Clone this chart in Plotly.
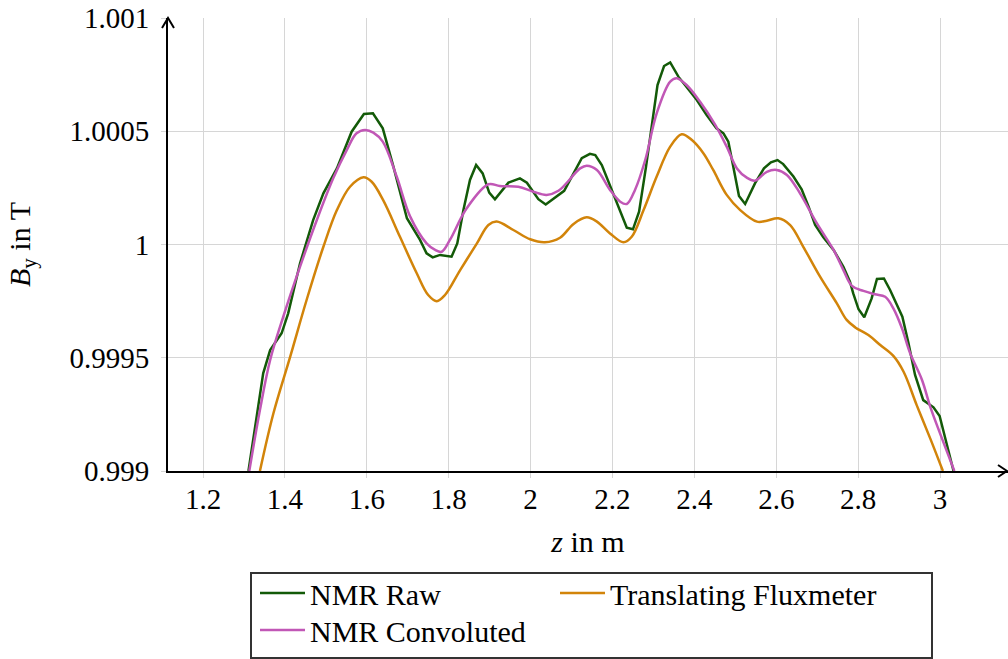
import plotly.graph_objects as go

# Longitudinal field profile B_y(z) along the magnet
raw_z = [1.311, 1.347, 1.364, 1.392, 1.408, 1.437, 1.469, 1.494, 1.527, 1.563,
         1.593, 1.615, 1.639, 1.665, 1.698, 1.730, 1.746, 1.761, 1.779, 1.807,
         1.821, 1.836, 1.852, 1.867, 1.883, 1.899, 1.913, 1.946, 1.974, 1.991,
         2.019, 2.037, 2.082, 2.125, 2.145, 2.158, 2.174, 2.202, 2.235, 2.250,
         2.265, 2.282, 2.296, 2.310, 2.326, 2.341, 2.361, 2.381, 2.406, 2.430,
         2.454, 2.471, 2.483, 2.495, 2.509, 2.524, 2.548, 2.570, 2.587, 2.603,
         2.617, 2.642, 2.662, 2.679, 2.695, 2.715, 2.740, 2.764, 2.780, 2.788,
         2.801, 2.815, 2.833, 2.846, 2.863, 2.878, 2.894, 2.908, 2.923, 2.939,
         2.959, 2.984, 2.999, 3.017, 3.033]
raw_b = [0.999000, 0.999431, 0.999534, 0.999608, 0.999696, 0.999917, 1.000108, 1.000226, 1.000336, 1.000498,
         1.000576, 1.000579, 1.000513, 1.000344, 1.000116, 1.000020, 0.999961, 0.999943, 0.999954, 0.999946,
         1.000005, 1.000152, 1.000285, 1.000351, 1.000314, 1.000229, 1.000200, 1.000273, 1.000292, 1.000273,
         1.000200, 1.000177, 1.000237, 1.000381, 1.000400, 1.000395, 1.000351, 1.000226, 1.000074, 1.000067,
         1.000145, 1.000344, 1.000520, 1.000704, 1.000788, 1.000804, 1.000741, 1.000694, 1.000638, 1.000572,
         1.000513, 1.000491, 1.000454, 1.000344, 1.000214, 1.000179, 1.000270, 1.000336, 1.000363, 1.000373,
         1.000355, 1.000300, 1.000244, 1.000167, 1.000086, 1.000032, 0.999976, 0.999902, 0.999836, 0.999784,
         0.999714, 0.999679, 0.999762, 0.999848, 0.999850, 0.999799, 0.999740, 0.999681, 0.999564, 0.999424,
         0.999313, 0.999281, 0.999243, 0.999107, 0.999000]

flux_z = [1.339, 1.372, 1.413, 1.453, 1.494, 1.527, 1.559, 1.592, 1.612, 1.640,
          1.681, 1.722, 1.750, 1.771, 1.791, 1.828, 1.869, 1.897, 1.917, 1.958,
          1.999, 2.035, 2.072, 2.105, 2.137, 2.162, 2.194, 2.227, 2.247, 2.276,
          2.308, 2.341, 2.369, 2.394, 2.422, 2.446, 2.479, 2.512, 2.553, 2.577,
          2.605, 2.634, 2.666, 2.707, 2.748, 2.772, 2.793, 2.825, 2.854, 2.886,
          2.911, 2.943, 2.976, 3.007]
flux_b = [0.999000, 0.999255, 0.999505, 0.999755, 0.999990, 1.000152, 1.000255, 1.000297, 1.000277, 1.000196,
          1.000034, 0.999873, 0.999777, 0.999750, 0.999777, 0.999887, 1.000005, 1.000086, 1.000101, 1.000064,
          1.000023, 1.000010, 1.000030, 1.000091, 1.000120, 1.000101, 1.000049, 1.000010, 1.000034, 1.000152,
          1.000300, 1.000432, 1.000487, 1.000461, 1.000403, 1.000329, 1.000219, 1.000152, 1.000101, 1.000105,
          1.000116, 1.000086, 0.999990, 0.999858, 0.999740, 0.999667, 0.999634, 0.999600, 0.999556, 0.999508,
          0.999438, 0.999291, 0.999144, 0.999000]

conv_z = [1.313, 1.339, 1.364, 1.396, 1.437, 1.478, 1.518, 1.551, 1.575, 1.596,
          1.616, 1.639, 1.673, 1.706, 1.746, 1.767, 1.783, 1.803, 1.844, 1.897,
          1.925, 1.970, 2.007, 2.039, 2.068, 2.121, 2.137, 2.162, 2.194, 2.219,
          2.235, 2.255, 2.280, 2.308, 2.341, 2.357, 2.381, 2.414, 2.451, 2.479,
          2.504, 2.528, 2.548, 2.577, 2.601, 2.626, 2.658, 2.699, 2.740, 2.764,
          2.785, 2.813, 2.841, 2.866, 2.886, 2.907, 2.927, 2.956, 2.976, 3.000,
          3.035]
conv_b = [0.999000, 0.999269, 0.999490, 0.999681, 0.999902, 1.000108, 1.000292, 1.000417, 1.000491, 1.000506,
          1.000494, 1.000454, 1.000300, 1.000123, 1.000005, 0.999976, 0.999968, 1.000020, 1.000160, 1.000266,
          1.000258, 1.000255, 1.000233, 1.000219, 1.000237, 1.000336, 1.000348, 1.000329, 1.000241, 1.000189,
          1.000179, 1.000241, 1.000373, 1.000579, 1.000719, 1.000734, 1.000704, 1.000630, 1.000528, 1.000432,
          1.000336, 1.000295, 1.000282, 1.000321, 1.000329, 1.000307, 1.000226, 1.000094, 0.999976, 0.999887,
          0.999817, 0.999795, 0.999780, 0.999769, 0.999718, 0.999630, 0.999520, 0.999402, 0.999284, 0.999166,
          0.999000]

x_ticks = [1.2, 1.4, 1.6, 1.8, 2.0, 2.2, 2.4, 2.6, 2.8, 3.0]
x_tick_text = ["1.2", "1.4", "1.6", "1.8", "2", "2.2", "2.4", "2.6", "2.8", "3"]
y_ticks = [0.999, 0.9995, 1.0, 1.0005, 1.001]
y_tick_text = ["0.999", "0.9995", "1", "1.0005", "1.001"]

FONT = "Liberation Serif"
GREEN = "#135a08"
ORANGE = "#d2840a"
MAGENTA = "#c157b6"

fig = go.Figure()
fig.add_trace(go.Scatter(x=raw_z, y=raw_b, mode="lines", name="NMR Raw", legend="legend",
                         line=dict(color=GREEN, width=2.5)))
fig.add_trace(go.Scatter(x=flux_z, y=flux_b, mode="lines", name="Translating Fluxmeter", legend="legend2",
                         line=dict(color=ORANGE, width=2.5, shape="spline", smoothing=1)))
fig.add_trace(go.Scatter(x=conv_z, y=conv_b, mode="lines", name="NMR Convoluted", legend="legend3",
                         line=dict(color=MAGENTA, width=2.5, shape="spline", smoothing=1)))

W, H = 1008, 659
ML, MR, MT, MB = 168, 0, 18, 188
PW, PH = W - ML - MR, H - MT - MB


def px_x(p):
    return (p - ML) / PW


def px_y(p):
    return (H - MB - p) / PH


# Arrow tips on the axis ends (open chevrons)
ax_x = 6 / PW
ax_y = 10 / PH
shapes = [
    dict(type="path", xref="paper", yref="paper",
         path=f"M {-ax_x},{1 - ax_y} L 0,1 L {ax_x},{1 - ax_y}",
         line=dict(color="black", width=2)),
    dict(type="path", xref="paper", yref="paper",
         path=f"M {1 - 10 / PW},{6 / PH} L {1 - 1 / PW},0 L {1 - 10 / PW},{-6 / PH}",
         line=dict(color="black", width=2)),
    # legend frame
    dict(type="rect", xref="paper", yref="paper",
         x0=px_x(251), x1=px_x(932), y0=px_y(573), y1=px_y(658),
         line=dict(color="#333333", width=2), fillcolor="rgba(0,0,0,0)"),
]


def legend_at(x_px, y_px):
    return dict(orientation="v", x=px_x(x_px), y=px_y(y_px), xanchor="left", yanchor="middle",
                itemwidth=45, borderwidth=0, bgcolor="rgba(0,0,0,0)",
                font=dict(family=FONT, size=30, color="black"))


fig.update_layout(
    width=W, height=H,
    margin=dict(l=ML, r=MR, t=MT, b=MB),
    paper_bgcolor="white", plot_bgcolor="white",
    font=dict(family=FONT, size=29, color="black"),
    showlegend=True,
    legend=legend_at(255, 593),
    legend2=legend_at(555, 593),
    legend3=legend_at(255, 630),
    shapes=shapes,
    xaxis=dict(range=[1.1145, 3.166], tickvals=x_ticks, ticktext=x_tick_text,
               showgrid=True, gridcolor="#d6d6d6", gridwidth=1,
               showline=True, linecolor="black", linewidth=2,
               ticks="outside", ticklen=5, tickcolor="#d6d6d6", tickwidth=1,
               ticklabelstandoff=-4, zeroline=False,
               tickfont=dict(family=FONT, size=29, color="black"),
               title=dict(text="<i>z</i> in m", standoff=17,
                          font=dict(family=FONT, size=30, color="black"))),
    yaxis=dict(range=[0.999, 1.001], tickvals=y_ticks, ticktext=y_tick_text,
               showgrid=True, gridcolor="#d6d6d6", gridwidth=1,
               showline=True, linecolor="black", linewidth=2,
               ticks="outside", ticklen=5, tickcolor="#d6d6d6", tickwidth=1,
               ticklabelstandoff=6, zeroline=False,
               tickfont=dict(family=FONT, size=29, color="black"),
               title=dict(text="<i>B</i><sub>y</sub> in T", standoff=30,
                          font=dict(family=FONT, size=30, color="black"))),
)

fig.write_html("out.html")
